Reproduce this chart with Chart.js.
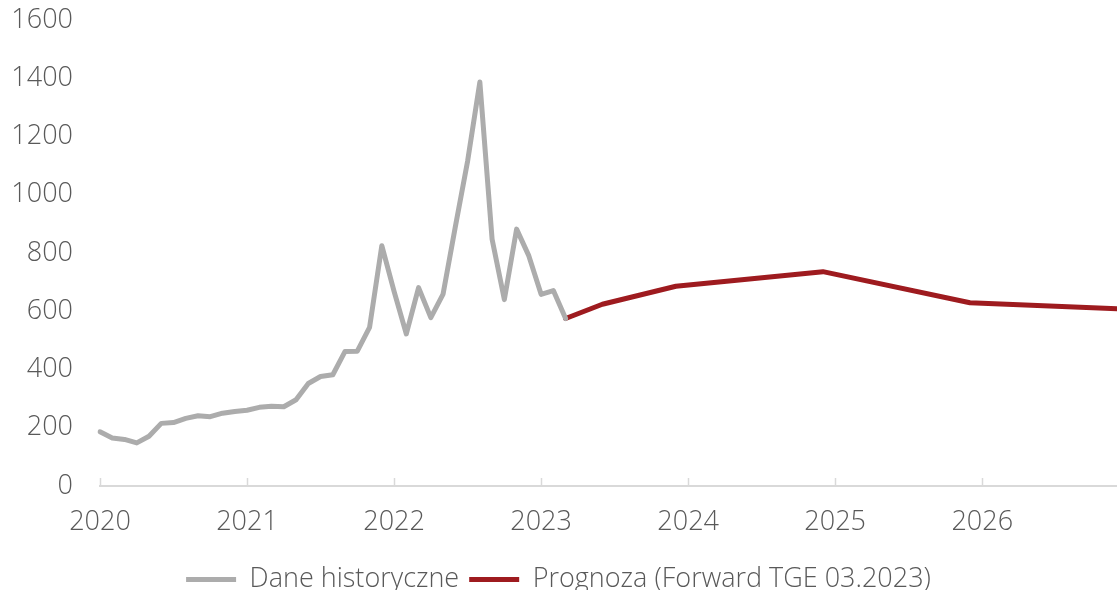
<!DOCTYPE html>
<html>
<head>
<meta charset="utf-8">
<script src="https://cdn.jsdelivr.net/npm/chart.js@4.4.0/dist/chart.umd.min.js"></script>
<style>
  html, body { margin: 0; padding: 0; background: #fff; }
  #wrap { width: 1117px; height: 590px; }
</style>
</head>
<body>
<div id="wrap"><canvas id="priceChart"></canvas></div>
<script>
// years shown on the axis, one category per month
var years = ['2020', '2021', '2022', '2023', '2024', '2025', '2026'];
var months = ['01', '02', '03', '04', '05', '06', '07', '08', '09', '10', '11', '12'];

// historical prices, monthly from 2020-01 to 2023-03
var historical = [186, 165, 160, 148, 171, 215, 218, 232, 241, 238, 250, 256,
                  260, 270, 274, 272, 296, 352, 376, 382, 462, 463, 545, 825,
                  668, 522, 681, 578, 659, 890, 1115, 1387, 847, 640, 882, 790,
                  658, 671, 575];

// forecast (Forward TGE 03.2023): month index and value
var forecastIdx = [38, 41, 47, 59, 71, 83];
var forecastVal = [575, 624, 686, 736, 629, 609];

var labels = [];
years.forEach(function (y) {
	months.forEach(function (m) { labels.push(y + '-' + m); });
});

var forecast = forecastIdx.map(function (idx, i) {
	return { x: labels[idx], y: forecastVal[i] };
});

var textColor = '#595959';
var axisColor = '#d9d9d9';
Chart.defaults.font.family = '"Open Sans", sans-serif';
Chart.defaults.font.weight = '300';
Chart.defaults.font.size = 27;
Chart.defaults.color = textColor;

// small tick marks pointing up into the plot, like the original
var innerTicks = {
	id: 'innerTicks',
	beforeDatasetsDraw: function (chart) {
		var xs = chart.scales.x, ctx = chart.ctx;
		ctx.save();
		ctx.strokeStyle = axisColor;
		ctx.lineWidth = 1.5;
		xs.ticks.forEach(function (t, i) {
			var px = Math.round(xs.getPixelForTick(i)) + 0.5;
			ctx.beginPath();
			ctx.moveTo(px, xs.top);
			ctx.lineTo(px, xs.top - 8);
			ctx.stroke();
		});
		ctx.restore();
	}
};

new Chart(document.getElementById('priceChart'), {
	type: 'line',
	data: {
		labels: labels,
		datasets: [
			{
				label: 'Dane historyczne',
				data: historical,
				borderColor: '#acacac',
				backgroundColor: '#acacac',
				borderWidth: 5,
				borderJoinStyle: 'round',
				borderCapStyle: 'round',
				pointRadius: 0,
				tension: 0
			},
			{
				label: 'Prognoza (Forward TGE 03.2023)',
				data: forecast,
				borderColor: '#9e1b1f',
				backgroundColor: '#9e1b1f',
				borderWidth: 5,
				borderJoinStyle: 'round',
				borderCapStyle: 'round',
				pointRadius: 0,
				tension: 0
			}
		]
	},
	options: {
		responsive: true,
		maintainAspectRatio: false,
		animation: false,
		layout: { padding: { left: 0, right: 0, top: 20, bottom: -13 } },
		plugins: {
			tooltip: { enabled: false },
			legend: {
				position: 'bottom',
				labels: {
					usePointStyle: true,
					pointStyle: 'line',
					pointStyleWidth: 50,
					padding: 10,
					color: textColor
				}
			}
		},
		scales: {
			x: {
				offset: false,
				afterBuildTicks: function (scale) {
					scale.ticks = scale.ticks.filter(function (t) { return t.value % 12 === 0; });
				},
				afterFit: function (scale) {
					scale.height = 70;
					scale.paddingLeft = 0;
					scale.paddingRight = 0;
				},
				grid: { display: true, drawOnChartArea: false, drawTicks: false },
				border: { display: true, color: axisColor, width: 2 },
				ticks: {
					autoSkip: false,
					maxRotation: 0,
					padding: 20,
					callback: function (value) { return this.getLabelForValue(value).slice(0, 4); }
				}
			},
			y: {
				min: 0,
				max: 1600,
				afterFit: function (scale) {
					scale.width = 100;
					scale.paddingTop = 0;
					scale.paddingBottom = 0;
				},
				grid: { display: false, drawTicks: false },
				border: { display: false },
				ticks: {
					stepSize: 200,
					padding: 27,
					callback: function (value) { return String(value); }
				}
			}
		}
	},
	plugins: [innerTicks]
});
</script>
</body>
</html>
